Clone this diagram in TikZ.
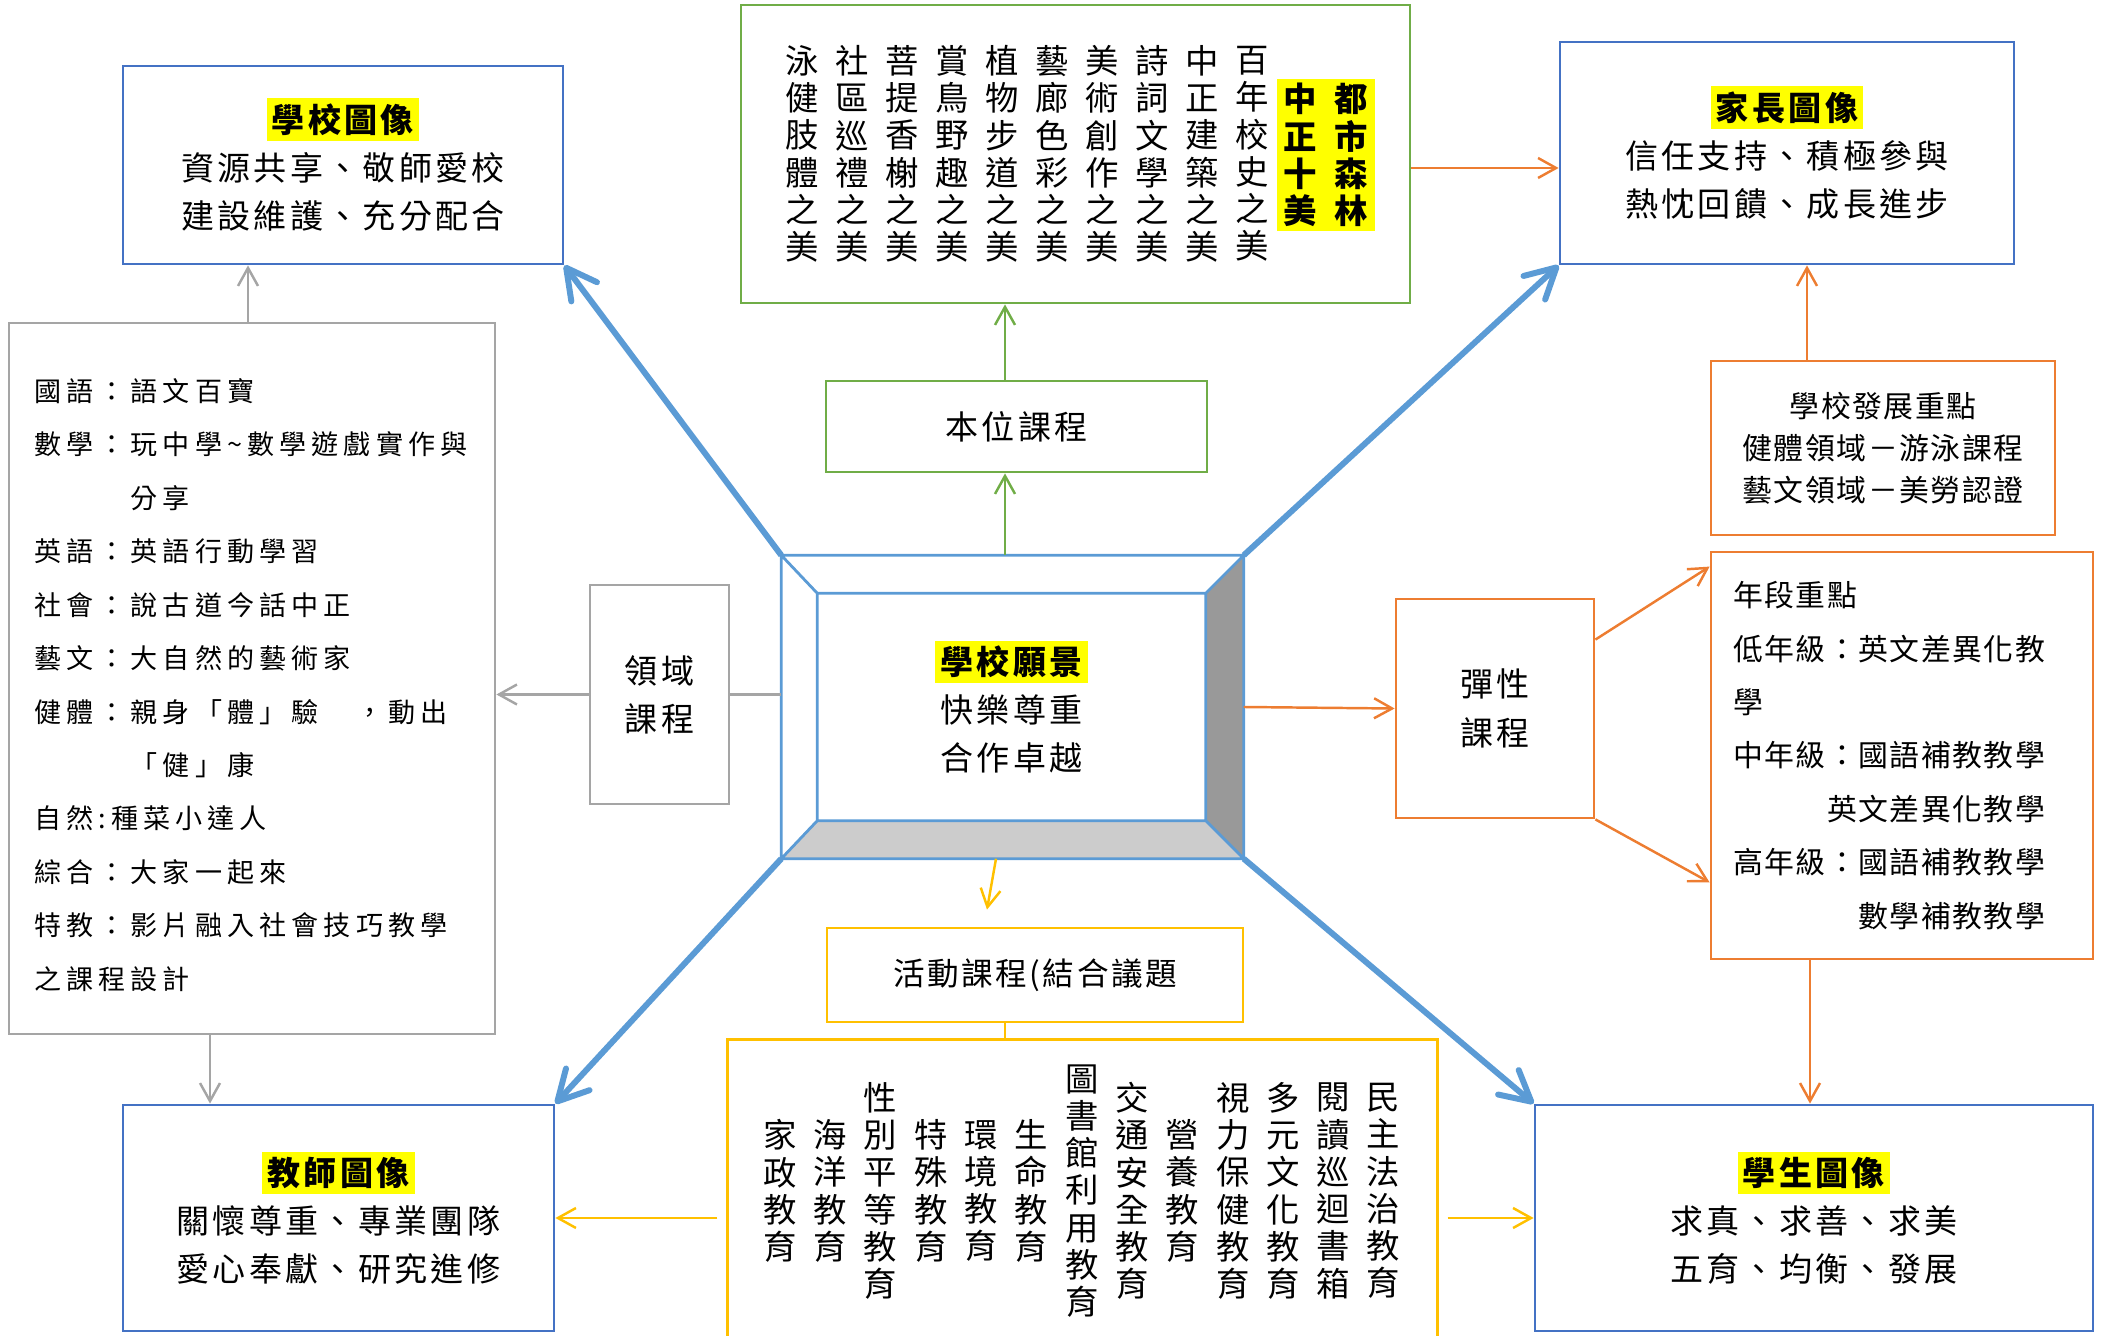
\documentclass[tikz,border=0pt]{standalone}
\usepackage{fontspec}
\setmainfont{Noto Sans CJK TC}
\usepackage{xcolor}
\usetikzlibrary{arrows.meta}

\definecolor{boxblue}{HTML}{4472C4}
\definecolor{lineblue}{HTML}{5B9BD5}
\definecolor{leafgreen}{HTML}{70AD47}
\definecolor{warmorange}{HTML}{ED7D31}
\definecolor{softgray}{HTML}{A5A5A5}
\definecolor{gold}{HTML}{FFC000}
\definecolor{markyellow}{HTML}{FFFF00}

\newcommand{\bodyfont}{\fontsize{9.4}{13.7}\selectfont\addfontfeature{LetterSpace=10}}
\newcommand{\colfont}{\fontsize{9.5}{10.6}\selectfont}
\newcommand{\listfont}{\fontsize{7.7}{15.2}\selectfont\addfontfeature{LetterSpace=19}}
\newcommand{\notefont}{\fontsize{8.5}{15.2}\selectfont\addfontfeature{LetterSpace=5}}
\newcommand{\devfont}{\fontsize{8.5}{11.9}\selectfont\addfontfeature{LetterSpace=5}}
\newcommand{\actfont}{\fontsize{9}{11}\selectfont\addfontfeature{LetterSpace=8}}
\newcommand{\hilite}[1]{{\setlength{\fboxsep}{1.5pt}\colorbox{markyellow}{\bfseries #1}}}

\begin{document}
\begin{tikzpicture}[x=0.1mm, y=-0.1mm,
    imgbox/.style={draw=boxblue, line width=0.8pt, align=center, font=\bodyfont},
    framebox/.style={draw=#1, line width=0.8pt, align=center, font=\bodyfont},
    colnode/.style={align=center, font=\colfont, inner sep=0pt},
    bluearrow/.style={draw=lineblue, line width=1.7pt, -{Straight Barb[length=3mm, width=3.2mm, round]}},
    thinarrow/.style={draw=#1, line width=0.7pt, -{Straight Barb[length=1.8mm, width=2mm]}}]
    \useasboundingbox (0,0) rectangle (2102,1336);

    % four images in the corners
    \node[imgbox, minimum width=44mm, minimum height=19.8mm] (schoolimg) at (343,165) {\hilite{學校圖像}\\資源共享、敬師愛校\\建設維護、充分配合};
    \node[imgbox, minimum width=45.4mm, minimum height=22.2mm] (parentimg) at (1787,153) {\hilite{家長圖像}\\信任支持、積極參與\\熱忱回饋、成長進步};
    \node[imgbox, minimum width=43.1mm, minimum height=22.6mm] (teacherimg) at (338.5,1218) {\hilite{教師圖像}\\關懷尊重、專業團隊\\愛心奉獻、研究進修};
    \node[imgbox, minimum width=55.8mm, minimum height=22.6mm] (studentimg) at (1814,1218) {\hilite{學生圖像}\\求真、求善、求美\\五育、均衡、發展};

    % school vision (bevelled frame)
    \node[minimum width=46.1mm, minimum height=30.2mm] (vision) at (1012.5,707) {};
    \node[minimum width=38.7mm, minimum height=22.6mm] (visionin) at (1011.5,707) {};
    \fill[black!20] (vision.south west) -- (vision.south east) -- (visionin.south east) -- (visionin.south west) -- cycle;
    \fill[black!40] (vision.north east) -- (vision.south east) -- (visionin.south east) -- (visionin.north east) -- cycle;
    \draw[lineblue, line width=0.8pt] (vision.north west) rectangle (vision.south east)
        (visionin.north west) rectangle (visionin.south east)
        (vision.north west) -- (visionin.north west) (vision.north east) -- (visionin.north east)
        (vision.south west) -- (visionin.south west) (vision.south east) -- (visionin.south east);
    \node[align=center, font=\bodyfont] (visiontext) at (visionin) {\hilite{學校願景}\\快樂尊重\\合作卓越};

    % school-based courses
    \node[framebox=leafgreen, minimum width=66.9mm, minimum height=29.8mm] (tenbeauty) at (1075.5,154) {};
    \foreach \col [count=\i from 0] in {{泳\\健\\肢\\體\\之\\美},{社\\區\\巡\\禮\\之\\美},{菩\\提\\香\\榭\\之\\美},{賞\\鳥\\野\\趣\\之\\美},{植\\物\\步\\道\\之\\美},{藝\\廊\\色\\彩\\之\\美},{美\\術\\創\\作\\之\\美},{詩\\詞\\文\\學\\之\\美},{中\\正\\建\\築\\之\\美},{百\\年\\校\\史\\之\\美}}
        \node[colnode] (beauty\i) at (802+50*\i,154) {\col};
    \node[colnode, fill=markyellow, inner xsep=0.7mm, inner ysep=0.4mm, font=\colfont\bfseries] (cityforest) at (1326,155) {中\hspace{1.76mm}都\\正\hspace{1.76mm}市\\十\hspace{1.76mm}森\\美\hspace{1.76mm}林};
    \node[framebox=leafgreen, minimum width=38.1mm, minimum height=9.1mm] (benwei) at (1016.5,426.5) {本位課程};

    % domain courses
    \node[framebox=softgray, minimum width=48.6mm, minimum height=71.1mm] (listbox) at (252,678.5) {};
    \node[text width=43.6mm, inner sep=0pt, align=left, font=\listfont] (listtext) at (252,685) {國語：語文百寶\\數學：玩中學\textasciitilde 數學遊戲實作與\\　　　分享\\英語：英語行動學習\\社會：說古道今話中正\\藝文：大自然的藝術家\\健體：親身「體」驗　，動出\\　　　「健」康\\自然:種菜小達人\\綜合：大家一起來\\特教：影片融入社會技巧教學\\之課程設計};
    \node[framebox=softgray, minimum width=13.9mm, minimum height=21.9mm] (domain) at (659.5,694.5) {領域\\課程};

    % flexible courses
    \node[framebox=warmorange, minimum width=19.8mm, minimum height=21.9mm] (flex) at (1495,708.5) {彈性\\課程};
    \node[framebox=warmorange, minimum width=34.4mm, minimum height=17.4mm, font=\devfont] (devbox) at (1883,448) {學校發展重點\\健體領域－游泳課程\\藝文領域－美勞認證};
    \node[framebox=warmorange, minimum width=38.2mm, minimum height=40.7mm, text width=33.8mm, inner xsep=2.2mm, align=left, font=\notefont] (gradebox) at (1902,755.5) {年段重點\\低年級：英文差異化教\\學\\中年級：國語補教教學\\　　　英文差異化教學\\高年級：國語補教教學\\　　　　數學補教教學};

    % activity courses
    \node[framebox=gold, minimum width=41.6mm, minimum height=9.4mm, font=\actfont] (activity) at (1035,975) {活動課程(結合議題};
    \node[minimum width=70.9mm, minimum height=30mm] (issuebox) at (1082.5,1190) {};
    \draw[gold, line width=0.8pt] (issuebox.south west) -- (issuebox.north west) -- (issuebox.north east) -- (issuebox.south east);
    \foreach \col [count=\i from 0] in {{家\\政\\教\\育},{海\\洋\\教\\育},{性\\別\\平\\等\\教\\育},{特\\殊\\教\\育},{環\\境\\教\\育},{生\\命\\教\\育},{圖\\書\\館\\利\\用\\教\\育},{交\\通\\安\\全\\教\\育},{營\\養\\教\\育},{視\\力\\保\\健\\教\\育},{多\\元\\文\\化\\教\\育},{閱\\讀\\巡\\迴\\書\\箱},{民\\主\\法\\治\\教\\育}}
        \node[colnode] (issue\i) at (780+50.3*\i,1191) {\col};

    % connectors
    \coordinate (greenx) at (1005,0);
    \coordinate (grayupx) at (248,0);
    \coordinate (graydownx) at (210,0);
    \coordinate (goldx) at (1005,0);
    \coordinate (orangeupx) at (1807,0);
    \coordinate (orangedownx) at (1810,0);
    \coordinate (orangey) at (0,168);

    \draw[bluearrow] (vision.north west) -- (schoolimg.south east);
    \draw[bluearrow] (vision.north east) -- (parentimg.south west);
    \draw[bluearrow] (vision.south west) -- (teacherimg.north east);
    \draw[bluearrow] (vision.south east) -- (studentimg.north west);

    \draw[thinarrow=leafgreen] (greenx |- vision.north) -- (greenx |- benwei.south);
    \draw[thinarrow=leafgreen] (greenx |- benwei.north) -- (greenx |- tenbeauty.south);

    \draw[thinarrow=softgray] (grayupx |- listbox.north) -- (grayupx |- schoolimg.south);
    \draw[thinarrow=softgray] (graydownx |- listbox.south) -- (graydownx |- teacherimg.north);
    \draw[softgray, line width=0.7pt] (vision.west |- domain.east) -- (domain.east);
    \draw[thinarrow=softgray] (domain.west) -- (domain.west -| listbox.east);

    \draw[thinarrow=warmorange] (vision.east) -- (flex.west);
    \draw[thinarrow=warmorange] ([yshift=-4.2mm]flex.north east) -- ([yshift=-1.6mm]gradebox.north west);
    \draw[thinarrow=warmorange] (flex.south east) -- ([yshift=7.8mm]gradebox.south west);
    \draw[thinarrow=warmorange] (orangeupx |- devbox.north) -- (orangeupx |- parentimg.south);
    \draw[thinarrow=warmorange] (orangedownx |- gradebox.south) -- (orangedownx |- studentimg.north);
    \draw[thinarrow=warmorange] (tenbeauty.east |- orangey) -- (parentimg.west |- orangey);

    \draw[thinarrow=gold] ([xshift=-1.65mm]vision.south) -- ([xshift=-4.8mm, yshift=1.7mm]activity.north);
    \draw[gold, line width=0.8pt] (goldx |- activity.south) -- (goldx |- issuebox.north);
    \draw[thinarrow=gold] ([xshift=-1mm]issuebox.west |- teacherimg.east) -- (teacherimg.east);
    \draw[thinarrow=gold] ([xshift=1mm]issuebox.east |- studentimg.west) -- (studentimg.west);
\end{tikzpicture}
\end{document}
